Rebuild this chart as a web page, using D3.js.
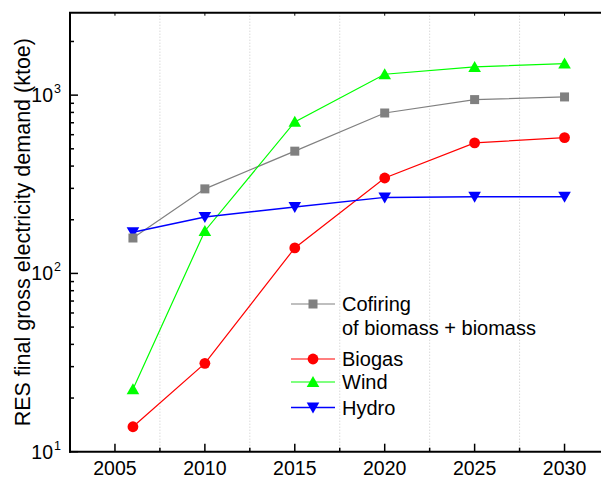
<!DOCTYPE html>
<html>
<head>
<meta charset="utf-8">
<script src="https://cdn.jsdelivr.net/npm/d3@7"></script>
<style>
  html, body { margin: 0; padding: 0; background: #fff; }
  svg { display: block; font-family: Arial, "Liberation Sans", sans-serif; }
</style>
</head>
<body>
<svg id="chart" width="601" height="479"></svg>
<script>
// Years on the horizontal axis
const years = [2006, 2010, 2015, 2020, 2025, 2030];

// RES final gross electricity demand per source (ktoe)
const cofiring = [158, 298, 485, 794, 944, 977];
const biogas   = [13.8, 31.3, 139, 343, 540, 578];
const wind     = [22.4, 173, 708, 1310, 1439, 1503];
const hydro    = [170, 207, 236, 267, 269, 269];

// Axis tick values
const xTicks = [2005, 2010, 2015, 2020, 2025, 2030];
const xMinorTicks = [2007.5, 2012.5, 2017.5, 2022.5, 2027.5];
const yMajorTicks = [10, 100, 1000];
const yExponents = ["1", "2", "3"];

const seriesNames = ["Cofiring|of biomass + biomass", "Biogas", "Wind", "Hydro"];

const svg = d3.select("#chart");
const margin = { left: 70, top: 12.7, right: 609.5, bottom: 451.7 };

const x = d3.scaleLinear().domain([2002.5, 2032.5]).range([margin.left, margin.right]);
const y = d3.scaleLog().domain([10, 2900]).range([margin.bottom, margin.top]);

const series = [
  { name: seriesNames[0], values: cofiring, color: "#808080", marker: "square", width: 1.2 },
  { name: seriesNames[1], values: biogas,   color: "#ff0000", marker: "circle", width: 1.2 },
  { name: seriesNames[2], values: wind,     color: "#00ff00", marker: "up",     width: 1.2 },
  { name: seriesNames[3], values: hydro,    color: "#0000ff", marker: "down",   width: 1.5 }
];

// Vertical dotted grid lines at the half-way years
svg.append("g").selectAll("line").data(xMinorTicks).join("line")
  .attr("x1", d => x(d)).attr("x2", d => x(d))
  .attr("y1", margin.top).attr("y2", margin.bottom)
  .attr("stroke", "#c8c8c8").attr("stroke-width", 1)
  .attr("stroke-dasharray", "1,2");

// Marker drawing helper
function drawMarker(g, type, cx, cy, color) {
  if (type === "square") {
    g.append("rect").attr("x", cx - 4.5).attr("y", cy - 4.5)
      .attr("width", 9).attr("height", 9).attr("fill", color);
  } else if (type === "circle") {
    g.append("circle").attr("cx", cx).attr("cy", cy).attr("r", 5.4).attr("fill", color);
  } else if (type === "up") {
    g.append("path").attr("d", `M${cx},${cy - 6} L${cx + 6.3},${cy + 5} L${cx - 6.3},${cy + 5} Z`)
      .attr("fill", color);
  } else {
    g.append("path").attr("d", `M${cx},${cy + 6} L${cx + 6.3},${cy - 5} L${cx - 6.3},${cy - 5} Z`)
      .attr("fill", color);
  }
}

const plot = svg.append("g");
const line = d3.line().x((d, i) => x(years[i])).y(d => y(d));

series.forEach(s => {
  plot.append("path").datum(s.values)
    .attr("d", line).attr("fill", "none")
    .attr("stroke", s.color).attr("stroke-width", s.width);
});
// markers: hydro first so the others sit on top
[3, 1, 2, 0].forEach(k => {
  const s = series[k];
  const g = plot.append("g");
  s.values.forEach((v, i) => drawMarker(g, s.marker, x(years[i]), y(v), s.color));
});

// Axes frame
const axisG = svg.append("g");
axisG.append("line").attr("x1", margin.left).attr("x2", margin.left)
  .attr("y1", margin.top).attr("y2", margin.bottom + 1)
  .attr("stroke", "#000").attr("stroke-width", 2);
axisG.append("line").attr("x1", margin.left - 1).attr("x2", 601)
  .attr("y1", margin.bottom).attr("y2", margin.bottom)
  .attr("stroke", "#000").attr("stroke-width", 2);
axisG.append("line").attr("x1", margin.left - 1).attr("x2", 601)
  .attr("y1", margin.top).attr("y2", margin.top)
  .attr("stroke", "#000").attr("stroke-width", 2);

// Bottom axis ticks (inward) and labels
axisG.selectAll(".xmaj").data(xTicks).join("line")
  .attr("x1", d => x(d)).attr("x2", d => x(d))
  .attr("y1", margin.bottom).attr("y2", margin.bottom - 8)
  .attr("stroke", "#000").attr("stroke-width", 1.5);
axisG.selectAll(".xmin").data(xMinorTicks).join("line")
  .attr("x1", d => x(d)).attr("x2", d => x(d))
  .attr("y1", margin.bottom).attr("y2", margin.bottom - 4)
  .attr("stroke", "#000").attr("stroke-width", 1.5);
axisG.selectAll(".xtop").data(xTicks).join("line")
  .attr("x1", d => x(d)).attr("x2", d => x(d))
  .attr("y1", margin.top).attr("y2", margin.top + 3)
  .attr("stroke", "#000").attr("stroke-width", 1);
axisG.selectAll(".xlab").data(xTicks).join("text")
  .attr("x", d => x(d)).attr("y", 475)
  .attr("text-anchor", "middle").attr("font-size", 19.5)
  .text(d => d);

// Left axis ticks: majors at decades, minors at 2..9 x decade
const yMinor = [];
[10, 100, 1000].forEach(b => { for (let m = 2; m <= 9; m++) if (b * m <= 2900) yMinor.push(b * m); });
axisG.selectAll(".ymin").data(yMinor).join("line")
  .attr("x1", margin.left).attr("x2", margin.left + 4)
  .attr("y1", d => y(d)).attr("y2", d => y(d))
  .attr("stroke", "#000").attr("stroke-width", 1.5);
axisG.selectAll(".ymaj").data(yMajorTicks).join("line")
  .attr("x1", margin.left).attr("x2", margin.left + 8)
  .attr("y1", d => y(d)).attr("y2", d => y(d))
  .attr("stroke", "#000").attr("stroke-width", 1.5);
axisG.selectAll(".ylab").data(yMajorTicks).join("text")
  .attr("x", 53).attr("y", d => y(d) + 7)
  .attr("text-anchor", "end").attr("font-size", 19.5)
  .text("10");
axisG.selectAll(".yexp").data(yMajorTicks).join("text")
  .attr("x", 54).attr("y", d => y(d) - 2)
  .attr("font-size", 12.5)
  .text((d, i) => yExponents[i]);

// Y axis title
svg.append("text")
  .attr("transform", `translate(29.5,${(margin.top + margin.bottom) / 2}) rotate(-90)`)
  .attr("text-anchor", "middle").attr("font-size", 21.5)
  .text("RES final gross electricity demand (ktoe)");

// Legend
const legend = svg.append("g");
const legendRows = [304, 359, 382, 407.5];
series.forEach((s, i) => {
  const ly = legendRows[i];
  legend.append("line").attr("x1", 291).attr("x2", 335)
    .attr("y1", ly).attr("y2", ly).attr("stroke", s.color).attr("stroke-width", s.width);
  drawMarker(legend, s.marker, 313, ly, s.color);
  const parts = s.name.split("|");
  parts.forEach((p, j) => {
    legend.append("text").attr("x", 342).attr("y", ly + 7 + j * 24)
      .attr("font-size", 20).text(p);
  });
});
</script>
</body>
</html>
